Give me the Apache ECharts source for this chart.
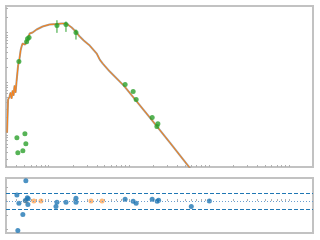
<!DOCTYPE html>
<html>
<head>
<meta charset="utf-8">
<script src="https://cdn.jsdelivr.net/npm/echarts@6/dist/echarts.min.js"></script>
<style>
  html, body { margin: 0; padding: 0; background: #fff; }
  #chart { width: 320px; height: 240px; }
</style>
</head>
<body>
<div id="chart"></div>
<script>
// model spectrum
var modelWave = [303, 312, 316, 326, 335, 345, 355, 365, 376, 387, 398, 404, 416, 428, 447, 460, 473, 494, 509, 516, 531, 554, 579, 631, 708, 841, 1029, 1259, 1454, 1631, 1728, 1939, 2175, 2441, 2738, 3255, 3981, 4341, 4732, 5786, 8660, 18300, 32540, 61310]
var modelFlux = [1.0, 4.57, 4.37, 5.25, 6.31, 4.79, 6.92, 5.5, 8.71, 6.31, 10.5, 11.5, 21.9, 26.3, 43.7, 52.5, 60.3, 63.1, 57.5, 52.5, 66.1, 75.9, 95.5, 100, 115, 132, 145, 148, 151, 151, 145, 126, 105, 83.2, 69.2, 55.0, 38.0, 28.8, 24.0, 16.6, 8.71, 2.0, 0.631, 0.174]

// photometry
var photWave = [426, 531, 546, 570, 1270, 1645, 2193, 8990, 11320, 12340, 19550, 23040, 22390, 402, 506, 520, 477, 413]
var photFlux = [26.3, 65.2, 74.8, 79.4, 138, 144.5, 100, 9.12, 6.61, 4.57, 2.0, 1.51, 1.32, 0.794, 0.955, 0.603, 0.437, 0.398]

// error bars
var errWave = [1270, 1645, 2193]
var errLow = [98.6, 103, 72.4]
var errHigh = [176, 166, 115]

// residuals
var resWave = [402, 520, 426, 542, 557, 551, 477, 413, 512, 1270, 1234, 1645, 2193, 2193, 8990, 11320, 12340, 19550, 22590, 23510, 60100, 100900]
var resValue = [0.214, 0.714, -0.082, 0.118, 0.082, -0.118, -0.475, -1.036, 0.018, -0.046, -0.189, -0.046, 0.096, -0.046, 0.061, -0.011, -0.082, 0.061, -0.011, 0.025, -0.189, 0.0]
var limWave = [520, 655, 801, 3381, 4636]
var limValue = [0, 0, 0, 0, 0]
var resBand = 0.29

// ticks
var xMajor = [1e3, 1e4, 1e5, 1e6]
var yMajor = [1, 10, 100]
var resTicks = [-1, -0.5, 0, 0.5]

function minors(lo, hi) {
  var out = []
  for (var p = -2; p <= 7; p++) {
    for (var k = 1; k <= 9; k++) {
      var v = k * Math.pow(10, p)
      if (v > lo && v < hi) out.push(v)
    }
  }
  return out
}

function zip(a, b) {
  return a.map(function(v, i) { return [v, b[i]] })
}

var xMin = 294
var xMax = 1.98e6
var chart = echarts.init(document.getElementById('chart'))

var tick = { show: true, inside: true, length: 2, lineStyle: { color: '#b0b0b0', width: 1 } }

function logX(grid) {
  return {
    type: 'log', logBase: 10, gridIndex: grid, min: xMin, max: xMax,
    axisLine: { show: false },
    axisLabel: { show: false },
    splitLine: { show: false },
    axisTick: Object.assign({ customValues: minors(xMin, xMax) }, tick)
  }
}

chart.setOption({
  animation: false,
  backgroundColor: '#fff',
  grid: [
    { left: 6, top: 6, right: 7, height: 161, show: true, borderColor: '#c2c2c2', borderWidth: 2, containLabel: false },
    { left: 6, top: 178, right: 7, height: 55, show: true, borderColor: '#c2c2c2', borderWidth: 2, containLabel: false }
  ],
  xAxis: [logX(0), logX(1)],
  yAxis: [
    {
      type: 'log', logBase: 10, gridIndex: 0, min: 0.206, max: 339,
      axisLine: { show: false },
      axisLabel: { show: false },
      splitLine: { show: false },
      axisTick: Object.assign({ customValues: minors(0.206, 339) }, tick)
    },
    {
      type: 'value', gridIndex: 1, min: -1.125, max: 0.811,
      axisLine: { show: false },
      axisLabel: { show: false },
      splitLine: { show: false },
      axisTick: Object.assign({ customValues: resTicks }, tick)
    }
  ],
  series: [
    {
      type: 'line', xAxisIndex: 0, yAxisIndex: 0, data: zip(modelWave, modelFlux),
      symbol: 'none', z: 1,
      lineStyle: { color: '#a0a0a0', width: 2 }
    },
    {
      type: 'line', xAxisIndex: 0, yAxisIndex: 0, data: zip(modelWave, modelFlux),
      symbol: 'none', z: 2,
      lineStyle: { color: '#ff7f0e', width: 1 }
    },
    {
      type: 'custom', xAxisIndex: 0, yAxisIndex: 0, z: 3,
      data: errWave.map(function(w, i) { return [w, errLow[i], errHigh[i]] }),
      encode: { x: 0, y: [1, 2] },
      renderItem: function(params, api) {
        var p1 = api.coord([api.value(0), api.value(1)])
        var p2 = api.coord([api.value(0), api.value(2)])
        return {
          type: 'line',
          shape: { x1: p1[0], y1: p1[1], x2: p2[0], y2: p2[1] },
          style: { stroke: '#2ca02c', lineWidth: 1 }
        }
      }
    },
    {
      type: 'scatter', xAxisIndex: 0, yAxisIndex: 0, data: zip(photWave, photFlux),
      symbolSize: 5, z: 4,
      itemStyle: { color: '#2ca02c' }
    },
    {
      type: 'scatter', xAxisIndex: 1, yAxisIndex: 1, data: zip(limWave, limValue),
      symbolSize: 5, z: 3,
      itemStyle: { color: '#ff7f0e', opacity: 0.55 }
    },
    {
      type: 'scatter', xAxisIndex: 1, yAxisIndex: 1, data: zip(resWave, resValue),
      symbolSize: 5, z: 4,
      itemStyle: { color: '#1f77b4' },
      markLine: {
        silent: true, symbol: 'none', label: { show: false },
        data: [
          { yAxis: resBand, lineStyle: { color: '#1f77b4', type: [4, 2], width: 1 } },
          { yAxis: -resBand, lineStyle: { color: '#1f77b4', type: [4, 2], width: 1 } },
          { yAxis: 0, lineStyle: { color: '#6b9fcf', type: [1, 2], width: 1 } }
        ]
      }
    }
  ]
})
</script>
</body>
</html>
